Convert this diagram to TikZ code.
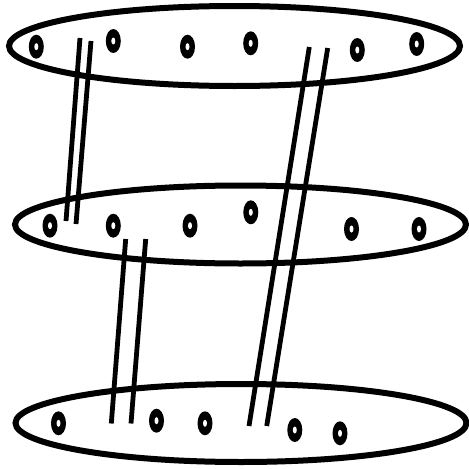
\documentclass[tikz,border=0pt]{standalone}
\usetikzlibrary{shapes.geometric}
\begin{document}
\begin{tikzpicture}[x=1pt,y=-1pt,
  disk/.style={ellipse,draw=black,line width=6pt,inner sep=0pt,minimum width=451pt,minimum height=79pt},
  dot/.style={ellipse,fill=black,inner sep=0pt,minimum width=15pt,minimum height=24pt,
    path picture={\fill[white] (path picture bounding box.center) ellipse (2pt and 3.5pt);}},
  bar/.style={line width=4.8pt,line cap=butt}]
\useasboundingbox (0,0) rectangle (469,469);
% layers
\node[disk,minimum height=80pt] (top) at (234.5,46) {};
\node[disk,minimum height=78pt] (mid) at (240.5,224.5) {};
\node[disk,minimum height=78pt] (bot) at (241,423) {};
% dots top
\node[dot] (t1) at (36.3,46.7) {};
\node[dot] (t2) at (113.3,41) {};
\node[dot] (t3) at (187.5,46.7) {};
\node[dot] (t4) at (250.7,43.3) {};
\node[dot] (t5) at (357.3,50) {};
\node[dot] (t6) at (416.7,44) {};
% dots middle
\node[dot] (m1) at (50,225.7) {};
\node[dot] (m2) at (113.3,225.7) {};
\node[dot] (m3) at (190,225.7) {};
\node[dot] (m4) at (250.8,212.3) {};
\node[dot] (m5) at (351.5,229) {};
\node[dot] (m6) at (419,229) {};
% dots bottom
\node[dot] (b1) at (58.5,423.3) {};
\node[dot] (b2) at (156.5,420.7) {};
\node[dot] (b3) at (205,423.3) {};
\node[dot] (b4) at (294.8,430) {};
\node[dot] (b5) at (340,433.3) {};
% bar end points
\coordinate (a1s) at (80,38);    \coordinate (a1e) at (66,221);
\coordinate (a2s) at (91,41);    \coordinate (a2e) at (76,224);
\coordinate (b1s) at (125.7,239);\coordinate (b1e) at (111.3,423.5);
\coordinate (b2s) at (145.7,239);\coordinate (b2e) at (131,423.5);
\coordinate (c1s) at (309.3,47); \coordinate (c1e) at (249,426);
\coordinate (c2s) at (327.7,48); \coordinate (c2e) at (266.7,426);
\draw[bar] (a1s) -- (a1e);
\draw[bar] (a2s) -- (a2e);
\draw[bar] (b1s) -- (b1e);
\draw[bar] (b2s) -- (b2e);
\draw[bar] (c1s) -- (c1e);
\draw[bar] (c2s) -- (c2e);
\end{tikzpicture}
\end{document}
